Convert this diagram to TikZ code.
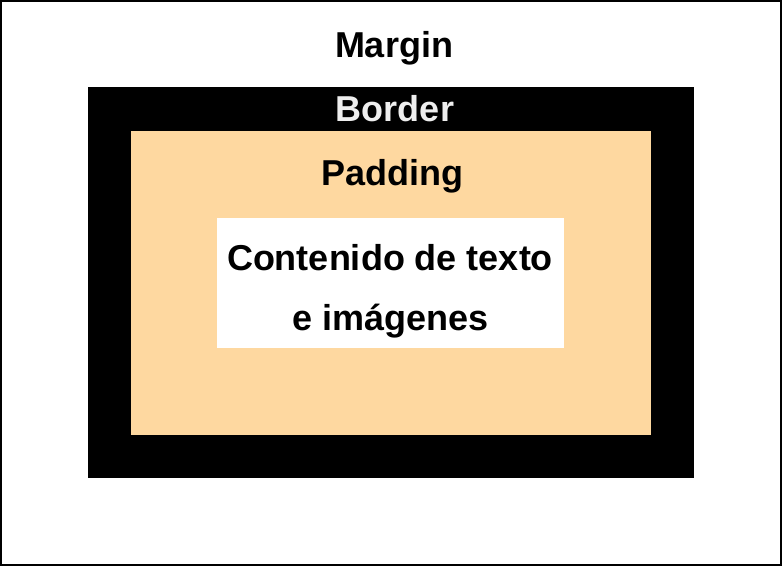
\documentclass[tikz,border=0pt]{standalone}
\usepackage{fontspec}
\setmainfont{Liberation Sans}
\definecolor{paddingcolor}{RGB}{254,216,160}
\definecolor{bordertext}{RGB}{238,238,238}
\begin{document}
\begin{tikzpicture}
		[
			x=1pt, y=-1pt,
			box/.style={rectangle, inner sep=0pt, outer sep=0pt},
			lbl/.style={anchor=base, inner sep=0pt, font=\fontsize{36}{43}\selectfont\bfseries},
		]
		\useasboundingbox (0,0) rectangle (783,567);

		% Boxes
		\node[box, draw=black, line width=1.5pt, minimum width=780pt, minimum height=564pt] (page) at (391,283) {};
		\foreach \col/\name/\x/\y/\w/\h in
		{
			black/border/390.75/282.75/606.5/390.5,
			paddingcolor/padding/391/282.75/520/303.5,
			white/content/390.5/282.75/347/130.5
		}
			\node[box, fill=\col, minimum width=\w pt, minimum height=\h pt] (\name) at (\x,\y) {};

		% Labels
		\foreach \col/\name/\x/\y/\text in
		{
			black/lmargin/394/57.7/Margin,
			bordertext/lborder/395/121.7/Border,
			black/lpadding/392.5/185/Padding,
			black/lcontent1/390/270/Contenido de texto,
			black/lcontent2/391/330/e imágenes
		}
			\node[lbl, text=\col] (\name) at (\x,\y) {\text};

		\end{tikzpicture}
\end{document}
